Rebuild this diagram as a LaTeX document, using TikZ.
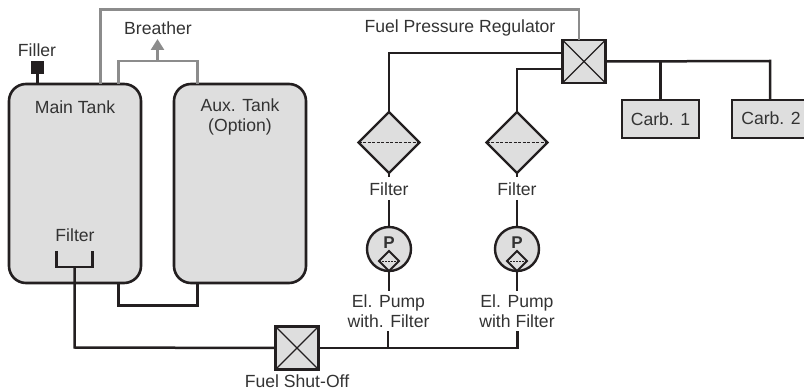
\documentclass[tikz,border=0pt]{standalone}
\usepackage{fontspec}
\setmainfont{Liberation Sans}
\usetikzlibrary{shapes.geometric,arrows.meta}
\definecolor{ink}{HTML}{231F20}
\definecolor{txt}{HTML}{333333}
\definecolor{pipegray}{HTML}{8C8C8C}
\definecolor{body}{HTML}{DEDEDE}
\tikzset{
  lbl/.style={text=txt,font=\fontsize{17.6}{20}\selectfont,inner sep=0pt,align=center},
  pipe/.style={draw=ink,line width=2.5pt,line join=miter},
  vent/.style={draw=pipegray,line width=2.5pt,line join=miter},
  tank/.style={draw=ink,fill=body,line width=2.6pt,rounded corners=17pt,minimum width=132pt,minimum height=199pt,inner sep=0pt,outer sep=0pt},
  valve/.style={draw=ink,fill=body,line width=2.8pt,minimum width=43pt,minimum height=43pt,inner sep=0pt,outer sep=0pt},
  carb/.style={draw=ink,fill=body,line width=2.5pt,minimum width=77pt,minimum height=38pt,inner sep=0pt,outer sep=0pt,text=txt,font=\fontsize{17.6}{20}\selectfont},
  filt/.style={diamond,aspect=1,draw=ink,fill=body,line width=2.2pt,minimum size=61pt,inner sep=0pt,outer sep=0pt},
  pump/.style={circle,draw=ink,fill=body,line width=2.4pt,minimum size=44pt,inner sep=0pt,outer sep=0pt},
  minifilt/.style={diamond,aspect=1,draw=ink,fill=body,line width=2pt,minimum size=20pt,inner sep=0pt,outer sep=0pt},
  cutline/.style={draw=ink,line width=1.5pt,dash pattern=on 3pt off 1.5pt},
  crossl/.style={draw=ink,line width=1.4pt},
}
\begin{document}
\begin{tikzpicture}[x=1pt,y=-1pt]
\useasboundingbox (0,0) rectangle (804,390);
% tanks, valves and components
\node[tank] (main) at (75,183.5) {};
\node[tank] (aux) at (240,183.5) {};
\node[valve] (reg) at (584,61.5) {};
\node[valve] (shut) at (297,348) {};
\node[carb] (c1) at (660.5,119) {Carb. 1};
\node[carb,minimum width=80pt] (c2) at (772,119) {};
\node[filt] (f1) at (389,142.5) {};
\node[filt] (f2) at (517,142.5) {};
\node[pump] (p1) at (389,249) {};
\node[pump] (p2) at (517,249) {};
\node[minifilt] (m1) at (389,261) {};
\node[minifilt] (m2) at (517,261) {};
\node[fill=ink,minimum size=13pt,inner sep=0pt,outer sep=0pt] (fill) at (37.5,68) {};
% labels
\node[lbl] (lfiller) at (37,50) {Filler};
\node[lbl] (lbreather) at (158,28) {Breather};
\node[lbl] (lreg) at (460,28) {Fuel Pressure Regulator};
\node[lbl] (lmain) at (75,107) {Main Tank};
\node[lbl] (laux) at (240,117) {Aux. Tank\\(Option)};
\node[lbl] (lc2) at (771,118.5) {Carb. 2};
\node[lbl] (lf0) at (75,235) {Filter};
\node[lbl] (lf1) at (389,189) {Filter};
\node[lbl] (lf2) at (517,189) {Filter};
\node[lbl] (lp1) at (388.5,311) {El. Pump\\with. Filter};
\node[lbl] (lp2) at (517,311) {El. Pump\\with Filter};
\node[lbl] (lshut) at (297,381) {Fuel Shut-Off};
\node[font=\bfseries\fontsize{17}{18}\selectfont,text=txt,inner sep=0pt] (pp1) at (389,243) {P};
\node[font=\bfseries\fontsize{17}{18}\selectfont,text=txt,inner sep=0pt] (pp2) at (517,243) {P};
% inner marks
\draw[crossl] (reg.north west) -- (reg.south east) (reg.north east) -- (reg.south west);
\draw[crossl] (shut.north west) -- (shut.south east) (shut.north east) -- (shut.south west);
\draw[cutline] (f1.west) -- (f1.east);
\draw[cutline] (f2.west) -- (f2.east);
\draw[draw=ink,line width=.9pt,dash pattern=on 2pt off 1pt] (m1.west) -- (m1.east);
\draw[draw=ink,line width=.9pt,dash pattern=on 2pt off 1pt] (m2.west) -- (m2.east);
% gray vent lines
\coordinate (vtop) at (100.5,9.5);
\coordinate (vb1) at (118.5,84);
\coordinate (vb2) at (197.5,84);
\coordinate (vt1) at (118.5,61);
\coordinate (vt2) at (197.5,61);
\coordinate (vm) at (157.5,61);
\coordinate (vtip) at (157.5,39);
\coordinate (vmain) at (100.5,84);
\coordinate (vreg) at (579,40);
\coordinate (vregt) at (579,9.5);
\draw[vent] (vmain) -- (vtop) -- (vregt) -- (vreg);
\draw[vent] (vb1) -- (vt1) -- (vt2) -- (vb2);
\draw[vent,-{Triangle[length=11pt,width=13pt]}] (vm) -- (vtip);
% black pipes
\coordinate (rl1) at (562.5,53);
\coordinate (rl2) at (562.5,69);
\coordinate (rc1) at (389,53);
\coordinate (rc2) at (517,69);
\draw[pipe] (rl1) -- (rc1) -- (f1.north);
\draw[pipe] (rl2) -- (rc2) -- (f2.north);
\coordinate (t1) at (660.5,61);
\coordinate (t2) at (770,61);
\coordinate (c2t) at (770,100);
\draw[pipe] (reg.east) -- (t2) -- (c2t);
\draw[pipe] (t1) -- (c1.north);
\draw[pipe] (fill.south) -- (fill.south |- main.north);
% filter to label to pump stubs
\coordinate (f1s) at (389,177);
\coordinate (f2s) at (517,177);
\coordinate (p1t) at (389,200);
\coordinate (p2t) at (517,200);
\draw[pipe] (f1.south) -- (f1s);
\draw[pipe] (f2.south) -- (f2s);
\draw[pipe] (p1t) -- (p1.north);
\draw[pipe] (p2t) -- (p2.north);
\coordinate (p1b) at (389,291);
\coordinate (p2b) at (517,291);
\draw[pipe] (m1.south) -- (p1b);
\draw[pipe] (m2.south) -- (p2b);
\coordinate (s1) at (388,331);
\coordinate (s2) at (517.5,331);
\coordinate (b1) at (388,348);
\coordinate (b2) at (517.5,348);
\draw[pipe] (shut.east) -- (b2) -- (s2);
\draw[pipe] (b1) -- (s1);
% tank links
\coordinate (ml) at (118.5,283);
\coordinate (al) at (197.5,283);
\coordinate (mlb) at (118.5,305.5);
\coordinate (alb) at (197.5,305.5);
\draw[pipe] (ml) -- (mlb) -- (alb) -- (al);
% tank outlet filter
\coordinate (ba) at (56.5,251);
\coordinate (bb) at (56.5,267);
\coordinate (bc) at (92.5,267);
\coordinate (bd) at (92.5,251);
\coordinate (bm) at (74.5,267);
\coordinate (bl) at (74.5,347.5);
\draw[pipe] (ba) -- (bb) -- (bc) -- (bd);
\draw[pipe] (bm) -- (bl) -- (shut.west);
\end{tikzpicture}
\end{document}
